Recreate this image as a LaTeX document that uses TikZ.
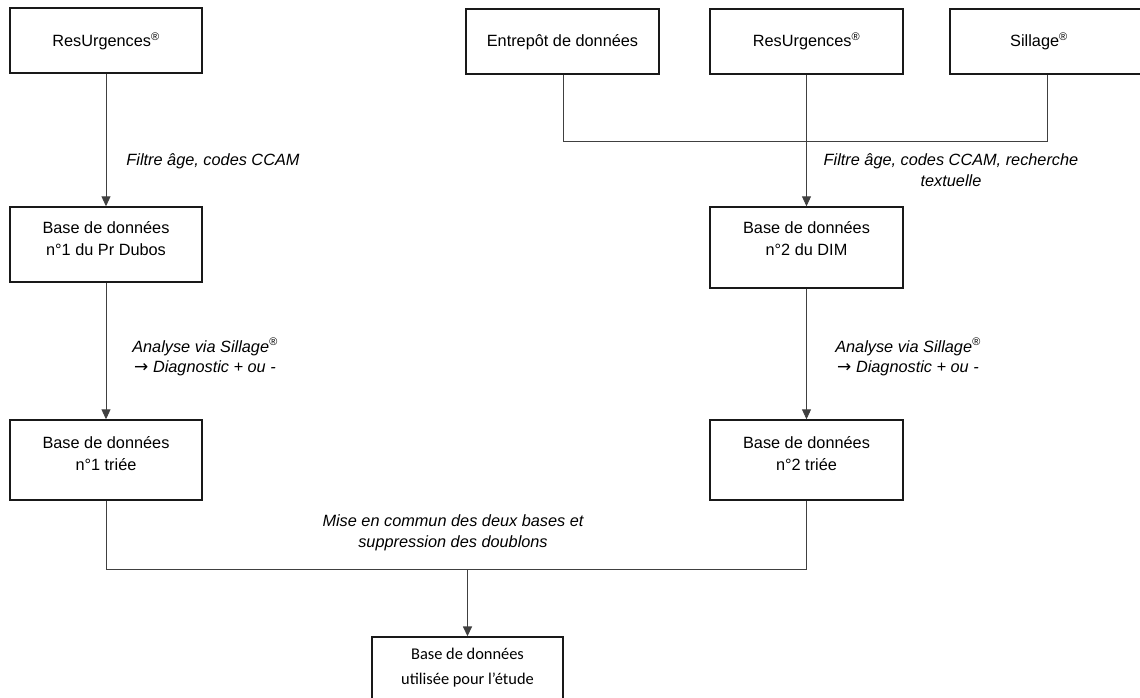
\documentclass[tikz,border=0pt]{standalone}
\usepackage{fontspec}
\setmainfont{Liberation Sans}
\newfontfamily\calfont{Carlito}
\newfontfamily\symfont{DejaVu Sans}
\usetikzlibrary{arrows.meta}
\tikzset{
  box/.style={draw=black!90, line width=1.4pt, rectangle, inner sep=0pt},
  txt/.style={align=center, inner sep=0pt, font=\fontsize{16.3}{22}\selectfont},
  lbl/.style={align=center, inner sep=0pt, font=\fontsize{16.3}{20.5}\selectfont\itshape},
  conn/.style={draw=black!75, line width=0.9pt},
  arr/.style={conn, -{Triangle[width=9pt,length=10pt]}},
}
\newcommand{\regm}{\textsuperscript{\fontsize{11}{11}\selectfont\textregistered}}
\newcommand{\rarr}{\textup{\symfont\fontsize{17}{17}\selectfont →}}
\begin{document}
\begin{tikzpicture}[x=1pt,y=-1pt]
\useasboundingbox (0,0) rectangle (1140,698);
\clip (0,0) rectangle (1140,698);
% top boxes
\node[box, minimum width=192pt, minimum height=65pt] (a1) at (106,40.5) {};
\node[txt] (ta1) at (106,41) {ResUrgences\regm};
\node[box, minimum width=193pt, minimum height=65pt] (e) at (562.5,41.5) {};
\node[txt] (te) at (562.5,42) {Entrepôt de données};
\node[box, minimum width=193pt, minimum height=65pt] (r2) at (806.5,41.5) {};
\node[txt] (tr2) at (806.5,41) {ResUrgences\regm};
\node[box, minimum width=193pt, minimum height=65pt] (s) at (1046.5,41.5) {};
\node[txt] (ts) at (1039,41) {Sillage\regm};
% second row
\node[box, minimum width=192pt, minimum height=75pt] (b1) at (106,244.5) {};
\node[txt, anchor=north] (tb1) at (106,221) {Base de données\\n°1 du Pr Dubos};
\node[box, minimum width=193pt, minimum height=81pt] (b2) at (806.5,247.5) {};
\node[txt, anchor=north] (tb2) at (806.5,221) {Base de données\\n°2 du DIM};
% third row
\node[box, minimum width=192pt, minimum height=80pt] (c1) at (106,460) {};
\node[txt, anchor=north] (tc1) at (106,436) {Base de données\\n°1 triée};
\node[box, minimum width=193pt, minimum height=80pt] (c2) at (806.5,460) {};
\node[txt, anchor=north] (tc2) at (806.5,436) {Base de données\\n°2 triée};
% final
\node[box, minimum width=191pt, minimum height=80pt] (f) at (467.5,677) {};
\node[txt, anchor=north, font=\calfont\fontsize{16.4}{25}\selectfont] (tf) at (467.5,648) {Base de données\\utilisée pour l’étude};
% coordinates
\coordinate (j1) at (563,141);
\coordinate (j2) at (1047,141);
\coordinate (m1) at (106,569);
\coordinate (m2) at (806.5,569);
\coordinate (mm) at (467.5,569);
% connectors
\draw[arr] (a1.south) -- (b1.north);
\draw[conn] (e.south -| j1) -- (j1) -- (j2) -- (s.south -| j2);
\draw[arr] (r2.south) -- (b2.north);
\draw[arr] (b1.south) -- (c1.north);
\draw[arr] (b2.south) -- (c2.north);
\draw[conn] (c1.south) -- (m1) -- (m2) -- (c2.south);
\draw[arr, line width=1.5pt] (mm) -- (f.north);
% labels
\node[lbl] (l1) at (213,161) {Filtre âge, codes CCAM};
\node[lbl] (l2) at (951,170) {Filtre âge, codes CCAM, recherche\\textuelle};
\node[lbl] (l3) at (205,357) {Analyse via Sillage\regm\\\rarr\ Diagnostic + ou -};
\node[lbl] (l4) at (908,357) {Analyse via Sillage\regm\\\rarr\ Diagnostic + ou -};
\node[lbl] (l5) at (453,533) {Mise en commun des deux bases et\\suppression des doublons};
\end{tikzpicture}
\end{document}
